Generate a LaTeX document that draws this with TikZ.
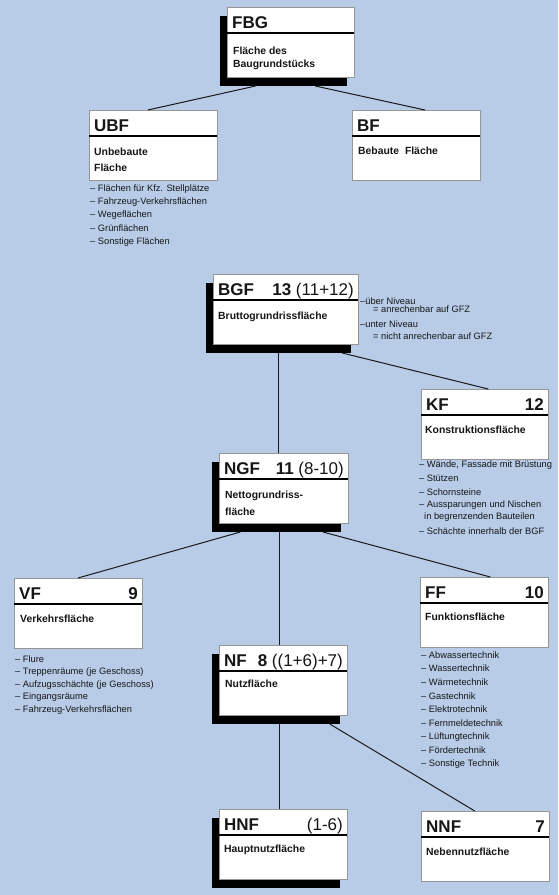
\documentclass[tikz,border=0pt]{standalone}
\usepackage{fontspec}
\setmainfont{Liberation Sans}
\usetikzlibrary{calc}

\definecolor{bgblue}{RGB}{184,204,232}
\definecolor{ink}{RGB}{22,22,22}
\definecolor{rim}{RGB}{150,150,150}

\newcommand\abbrfont{\fontsize{17}{17}\selectfont\bfseries}
\newcommand\numfont{\fontsize{17}{17}\selectfont}
\newcommand\descfont{\fontsize{10.4}{12}\selectfont\bfseries}
\newcommand\itemfont{\fontsize{9.3}{11}\selectfont}

\tikzset{
  card/.style={draw=rim, fill=white, line width=0.6pt, minimum width=128pt,
    minimum height=70pt, anchor=north west, inner sep=0pt, outer sep=0pt},
  cardshadow/.style={fill=black, draw=none, minimum width=128pt,
    minimum height=70pt, anchor=north west, inner sep=0pt, outer sep=0pt},
  divider/.style={draw=black, line width=1.3pt},
  abbr/.style={font=\abbrfont, text=ink, anchor=base west, inner sep=0pt},
  num/.style={font=\numfont, text=ink, anchor=base east, inner sep=0pt},
  desc/.style={font=\descfont, text=ink, anchor=base west, inner sep=0pt},
  item/.style={font=\itemfont, text=ink, anchor=west, inner sep=0pt},
  link/.style={draw=black!90, line width=1pt}
}

% card: [width] name, x, y, abbreviation, number
\newcommand\card[6][128pt]{%
  \node[card, minimum width=#1] (#2) at (#3,#4) {};
  \draw[divider] ($(#2.north west)+(0,26)$) -- ($(#2.north east)+(0,26)$);
  \node[abbr] (#2-abbr) at ($(#2.north west)+(5,21)$) {#5};
  \node[num] (#2-num) at ($(#2.north east)+(-4,21)$) {#6};
}
% shadow behind a card: [width] name, x, y (of the card)
\newcommand\cardshadow[4][128pt]{%
  \node[cardshadow, minimum width=#1] (#2-sh) at (#3-7,#4+9) {};
}

\begin{document}
\begin{tikzpicture}[x=1pt,y=-1pt]
\useasboundingbox (0,0) rectangle (558,895);
\fill[bgblue] (0,0) rectangle (558,895);

% ---- cards ----
\cardshadow[127pt]{fbg}{227}{7}
\card[127pt]{fbg}{227}{7}{FBG}{}
\node[desc] (fbg-d1) at (233,54) {Fläche des};
\node[desc] (fbg-d2) at (233,67) {Baugrundstücks};

\card{ubf}{89}{110}{UBF}{}
\node[desc] (ubf-d1) at (94,155) {Unbebaute};
\node[desc] (ubf-d2) at (94,171) {Fläche};

\card{bf}{352}{110}{BF}{}
\node[desc] (bf-d1) at (358,154) {Bebaute\ \ Fläche};

\cardshadow[145pt]{bgf}{213}{274}
\card[145pt]{bgf}{213}{274}{BGF}{{\bfseries 13} (11+12)}
\node[desc] (bgf-d1) at (218,319) {Bruttogrundrissfläche};

\card[127pt]{kf}{421}{389}{KF}{{\bfseries 12}}
\node[desc] (kf-d1) at (425,433) {Konstruktionsfläche};

\cardshadow[129pt]{ngf}{219}{453}
\card[129pt]{ngf}{219}{453}{NGF}{{\bfseries 11} (8-10)}
\node[desc] (ngf-d1) at (225,498) {Nettogrundriss-};
\node[desc] (ngf-d2) at (225,515) {fläche};

\card{vf}{14}{578}{VF}{{\bfseries 9}\hspace{4pt}}
\node[desc] (vf-d1) at (20,622) {Verkehrsfläche};

\card{ff}{420}{577}{FF}{{\bfseries 10}}
\node[desc] (ff-d1) at (425,620) {Funktionsfläche};

\cardshadow{nf}{219}{645}
\card{nf}{219}{645}{NF}{{\bfseries 8} ((1+6)+7)}
\node[desc] (nf-d1) at (225,687) {Nutzfläche};

\cardshadow{hnf}{219}{809}
\card{hnf}{219}{809}{HNF}{(1-6)\hspace{4pt}}
\node[desc] (hnf-d1) at (224,852) {Hauptnutzfläche};

\card{nnf}{421}{811}{NNF}{{\bfseries 7}}
\node[desc] (nnf-d1) at (426,855) {Nebennutzfläche};

% ---- item lists ----
\foreach \t [count=\i from 0] in {Flächen für Kfz. Stellplätze,
    Fahrzeug-Verkehrsflächen, Wegeflächen, Grünflächen, Sonstige Flächen}
  \node[item] (ubf-i\i) at (90,189+13.2*\i) {– \t};

\node[item] (bgf-a1) at (360,301) {–über Niveau};
\node[item] (bgf-a2) at (373,309.5) {= anrechenbar auf GFZ};
\node[item] (bgf-a3) at (360,324) {–unter Niveau};
\node[item] (bgf-a4) at (373,336) {= nicht anrechenbar auf GFZ};

\node[item] (kf-i0) at (419,465) {– Wände, Fassade mit Brüstung};
\node[item] (kf-i1) at (419,478.5) {– Stützen};
\node[item] (kf-i2) at (419,492) {– Schornsteine};
\node[item] (kf-i3) at (419,505.5) {– Aussparungen und Nischen};
\node[item] (kf-i4) at (424,517) {in begrenzenden Bauteilen};
\node[item] (kf-i5) at (419,531) {– Schächte innerhalb der BGF};

\foreach \t [count=\i from 0] in {Flure, Treppenräume (je Geschoss),
    Aufzugsschächte (je Geschoss), Eingangsräume, Fahrzeug-Verkehrsflächen}
  \node[item] (vf-i\i) at (15,659+12.8*\i) {– \t};

\foreach \t [count=\i from 0] in {Abwassertechnik, Wassertechnik, Wärmetechnik,
    Gastechnik, Elektrotechnik, Fernmeldetechnik, Lüftungtechnik,
    Fördertechnik, Sonstige Technik}
  \node[item] (ff-i\i) at (421,655+13.6*\i) {– \t};

% ---- connectors ----
\draw[link] ($(fbg-sh.south west)!0.28!(fbg-sh.south east)$) -- ($(ubf.north west)!0.46!(ubf.north east)$);
\draw[link] ($(fbg-sh.south west)!0.75!(fbg-sh.south east)$) -- ($(bf.north west)!0.57!(bf.north east)$);

\coordinate (ngf-top) at ($(ngf.north west)!0.465!(ngf.north east)$);
\draw[link] (ngf-top) -- (ngf-top |- bgf-sh.south);
\draw[link] ($(bgf-sh.south west)!0.94!(bgf-sh.south east)$) -- ($(kf.north west)!0.53!(kf.north east)$);

\draw[link] ($(ngf-sh.south west)!0.22!(ngf-sh.south east)$) -- ($(vf.north west)!0.5!(vf.north east)$);
\draw[link] ($(ngf-sh.south west)!0.86!(ngf-sh.south east)$) -- ($(ff.north west)!0.55!(ff.north east)$);
\coordinate (nf-top) at ($(nf.north west)!0.47!(nf.north east)$);
\draw[link] (nf-top) -- (nf-top |- ngf-sh.south);

\coordinate (hnf-top) at ($(hnf.north west)!0.47!(hnf.north east)$);
\draw[link] (hnf-top) -- (hnf-top |- nf-sh.south);
\draw[link] ($(nf-sh.south west)!0.92!(nf-sh.south east)$) -- ($(nnf.north west)!0.42!(nnf.north east)$);
\end{tikzpicture}
\end{document}
